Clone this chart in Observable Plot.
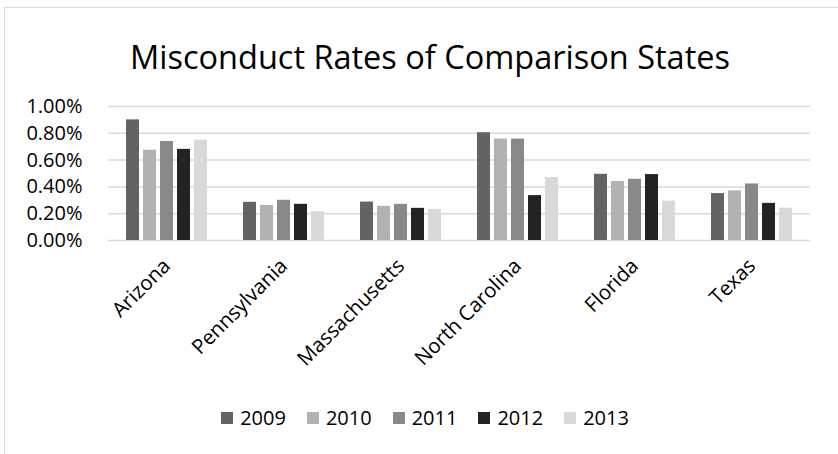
<!DOCTYPE html>
<html>
<head>
<meta charset="utf-8">
<script src="https://cdn.jsdelivr.net/npm/d3@7"></script>
<script src="https://cdn.jsdelivr.net/npm/@observablehq/plot@0.6"></script>
<style>
  html, body { margin: 0; padding: 0; background: #fff; }
  body { width: 838px; height: 454px; position: relative; overflow: hidden; font-family: "Open Sans", sans-serif; }
  #frame { position: absolute; left: 4px; top: 7px; width: 900px; height: 500px; border: 1.5px solid #d9d9d9; box-sizing: border-box; }
  #title { position: absolute; left: 0; width: 838px; top: 37px; text-align: center; font-size: 32.5px; line-height: 40px; color: #000; padding-left: 22px; box-sizing: border-box; }
  #chart { position: absolute; left: 0; top: 90px; }
  #legend { position: absolute; left: 0; width: 838px; top: 404px; line-height: 28px; display: flex; justify-content: center; gap: 21px; font-size: 20px; color: #000; padding-left: 12px; box-sizing: border-box; }
  .sw { display: flex; align-items: center; gap: 7px; }
  .sq { width: 12px; height: 12px; display: inline-block; }
</style>
</head>
<body>
<div id="frame"></div>
<div id="title">Misconduct Rates of Comparison States</div>
<div id="chart"></div>
<div id="legend"></div>
<script>
const states = ["Arizona", "Pennsylvania", "Massachusetts", "North Carolina", "Florida", "Texas"];
const years = ["2009", "2010", "2011", "2012", "2013"];
const colors = ["#636363", "#b2b2b2", "#898989", "#232323", "#d9d9d9"];
const v2009 = [0.90, 0.285, 0.287, 0.804, 0.494, 0.35];
const v2010 = [0.674, 0.262, 0.255, 0.757, 0.44, 0.37];
const v2011 = [0.739, 0.30, 0.27, 0.757, 0.457, 0.422];
const v2012 = [0.68, 0.27, 0.24, 0.335, 0.492, 0.277];
const v2013 = [0.749, 0.215, 0.232, 0.47, 0.294, 0.242];
const yTicks = [0, 0.2, 0.4, 0.6, 0.8, 1.0];

const series = [v2009, v2010, v2011, v2012, v2013];
const data = [];
states.forEach((s, i) => years.forEach((y, j) => data.push({state: s, year: y, value: series[j][i]})));

const chart = Plot.plot({
  width: 838,
  height: 300,
  marginTop: 16,
  marginBottom: 150,
  marginLeft: 106,
  marginRight: 26,
  style: {fontFamily: "'Open Sans', sans-serif", fontSize: "20px", color: "#000", background: "transparent", overflow: "visible"},
  fx: {domain: states, padding: 0, label: null},
  x: {domain: years, paddingInner: 0.22, paddingOuter: 0.88, axis: null},
  y: {domain: [0, 1.0], ticks: yTicks, tickFormat: d => d.toFixed(2) + "%", label: null, tickSize: 0, tickPadding: 26},
  color: {domain: years, range: colors},
  marks: [
    Plot.ruleY(yTicks, {stroke: "#d9d9d9", strokeWidth: 1.5, facetAnchor: null}),
    Plot.barY(data, {fx: "state", x: "year", y: "value", fill: "year"}),
    Plot.axisFx({anchor: "bottom", tickRotate: -45, tickSize: 0, tickPadding: 22, fontSize: 20.5, label: null})
  ]
});
document.getElementById("chart").appendChild(chart);

const legend = d3.select("#legend");
years.forEach((y, j) => {
  const it = legend.append("div").attr("class", "sw");
  it.append("span").attr("class", "sq").style("background", colors[j]);
  it.append("span").text(y);
});
</script>
</body>
</html>
